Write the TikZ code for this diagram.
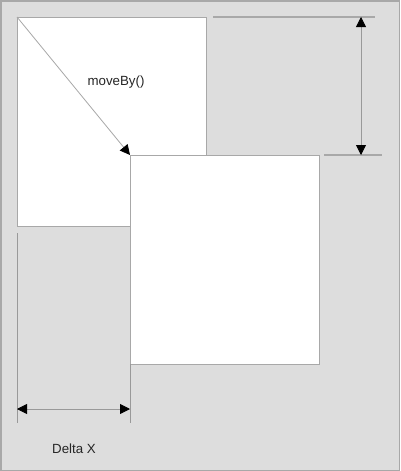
\documentclass[tikz,border=0pt]{standalone}
\usepackage{fontspec}
\setmainfont{Liberation Sans}
\usetikzlibrary{arrows.meta}
\definecolor{bg}{HTML}{DDDDDD}
\definecolor{edge}{HTML}{A8A8A8}
\definecolor{dim}{HTML}{999999}
\begin{document}
\begin{tikzpicture}[x=1pt,y=-1pt,
  box/.style={draw=edge,fill=white,line width=1.2pt,inner sep=0pt,anchor=north west,minimum width=189pt,minimum height=209pt},
  ext/.style={draw=edge,line width=1.2pt},
  dimarrow/.style={draw=dim,line width=0.8pt,{Triangle[length=10pt,width=10pt,color=black]}-{Triangle[length=10pt,width=10pt,color=black]}},
  lbl/.style={font=\fontsize{13.3}{15}\selectfont,text=black!85}]
\fill[bg,draw=edge,line width=1.5pt] (0.75,0.75) rectangle (399.25,470.25);
\useasboundingbox (0,0) rectangle (400,471);
\node[box] (r1) at (17,17) {};
\node[box] (r2) at (130,155) {};
% vertical dimension extension lines
\coordinate (t1) at (213,17); \coordinate (t2) at (375,17);
\coordinate (b1) at (324,155); \coordinate (b2) at (382,155);
\draw[ext] (t1) -- (t2);
\draw[ext] (b1) -- (b2);
\coordinate (va) at (361,17); \coordinate (vb) at (361,155);
\draw[dimarrow] (va) -- (vb);
% horizontal dimension extension lines
\coordinate (l1) at (17,233); \coordinate (l2) at (17,423);
\coordinate (m1) at (130,364); \coordinate (m2) at (130,423);
\draw[draw=dim,line width=0.8pt] (l1) -- (l2);
\draw[draw=dim,line width=0.8pt] (m1) -- (m2);
\coordinate (ha) at (17,409); \coordinate (hb) at (130,409);
\draw[dimarrow] (ha) -- (hb);
% diagonal move arrow
\draw[draw=edge,line width=0.8pt,-{Triangle[length=10pt,width=10pt,color=black]}] (r1.north west) -- (r2.north west);
\node[lbl] (mv) at (116,82) {moveBy()};
\node[lbl] (dx) at (74,449) {Delta X};
\end{tikzpicture}
\end{document}
